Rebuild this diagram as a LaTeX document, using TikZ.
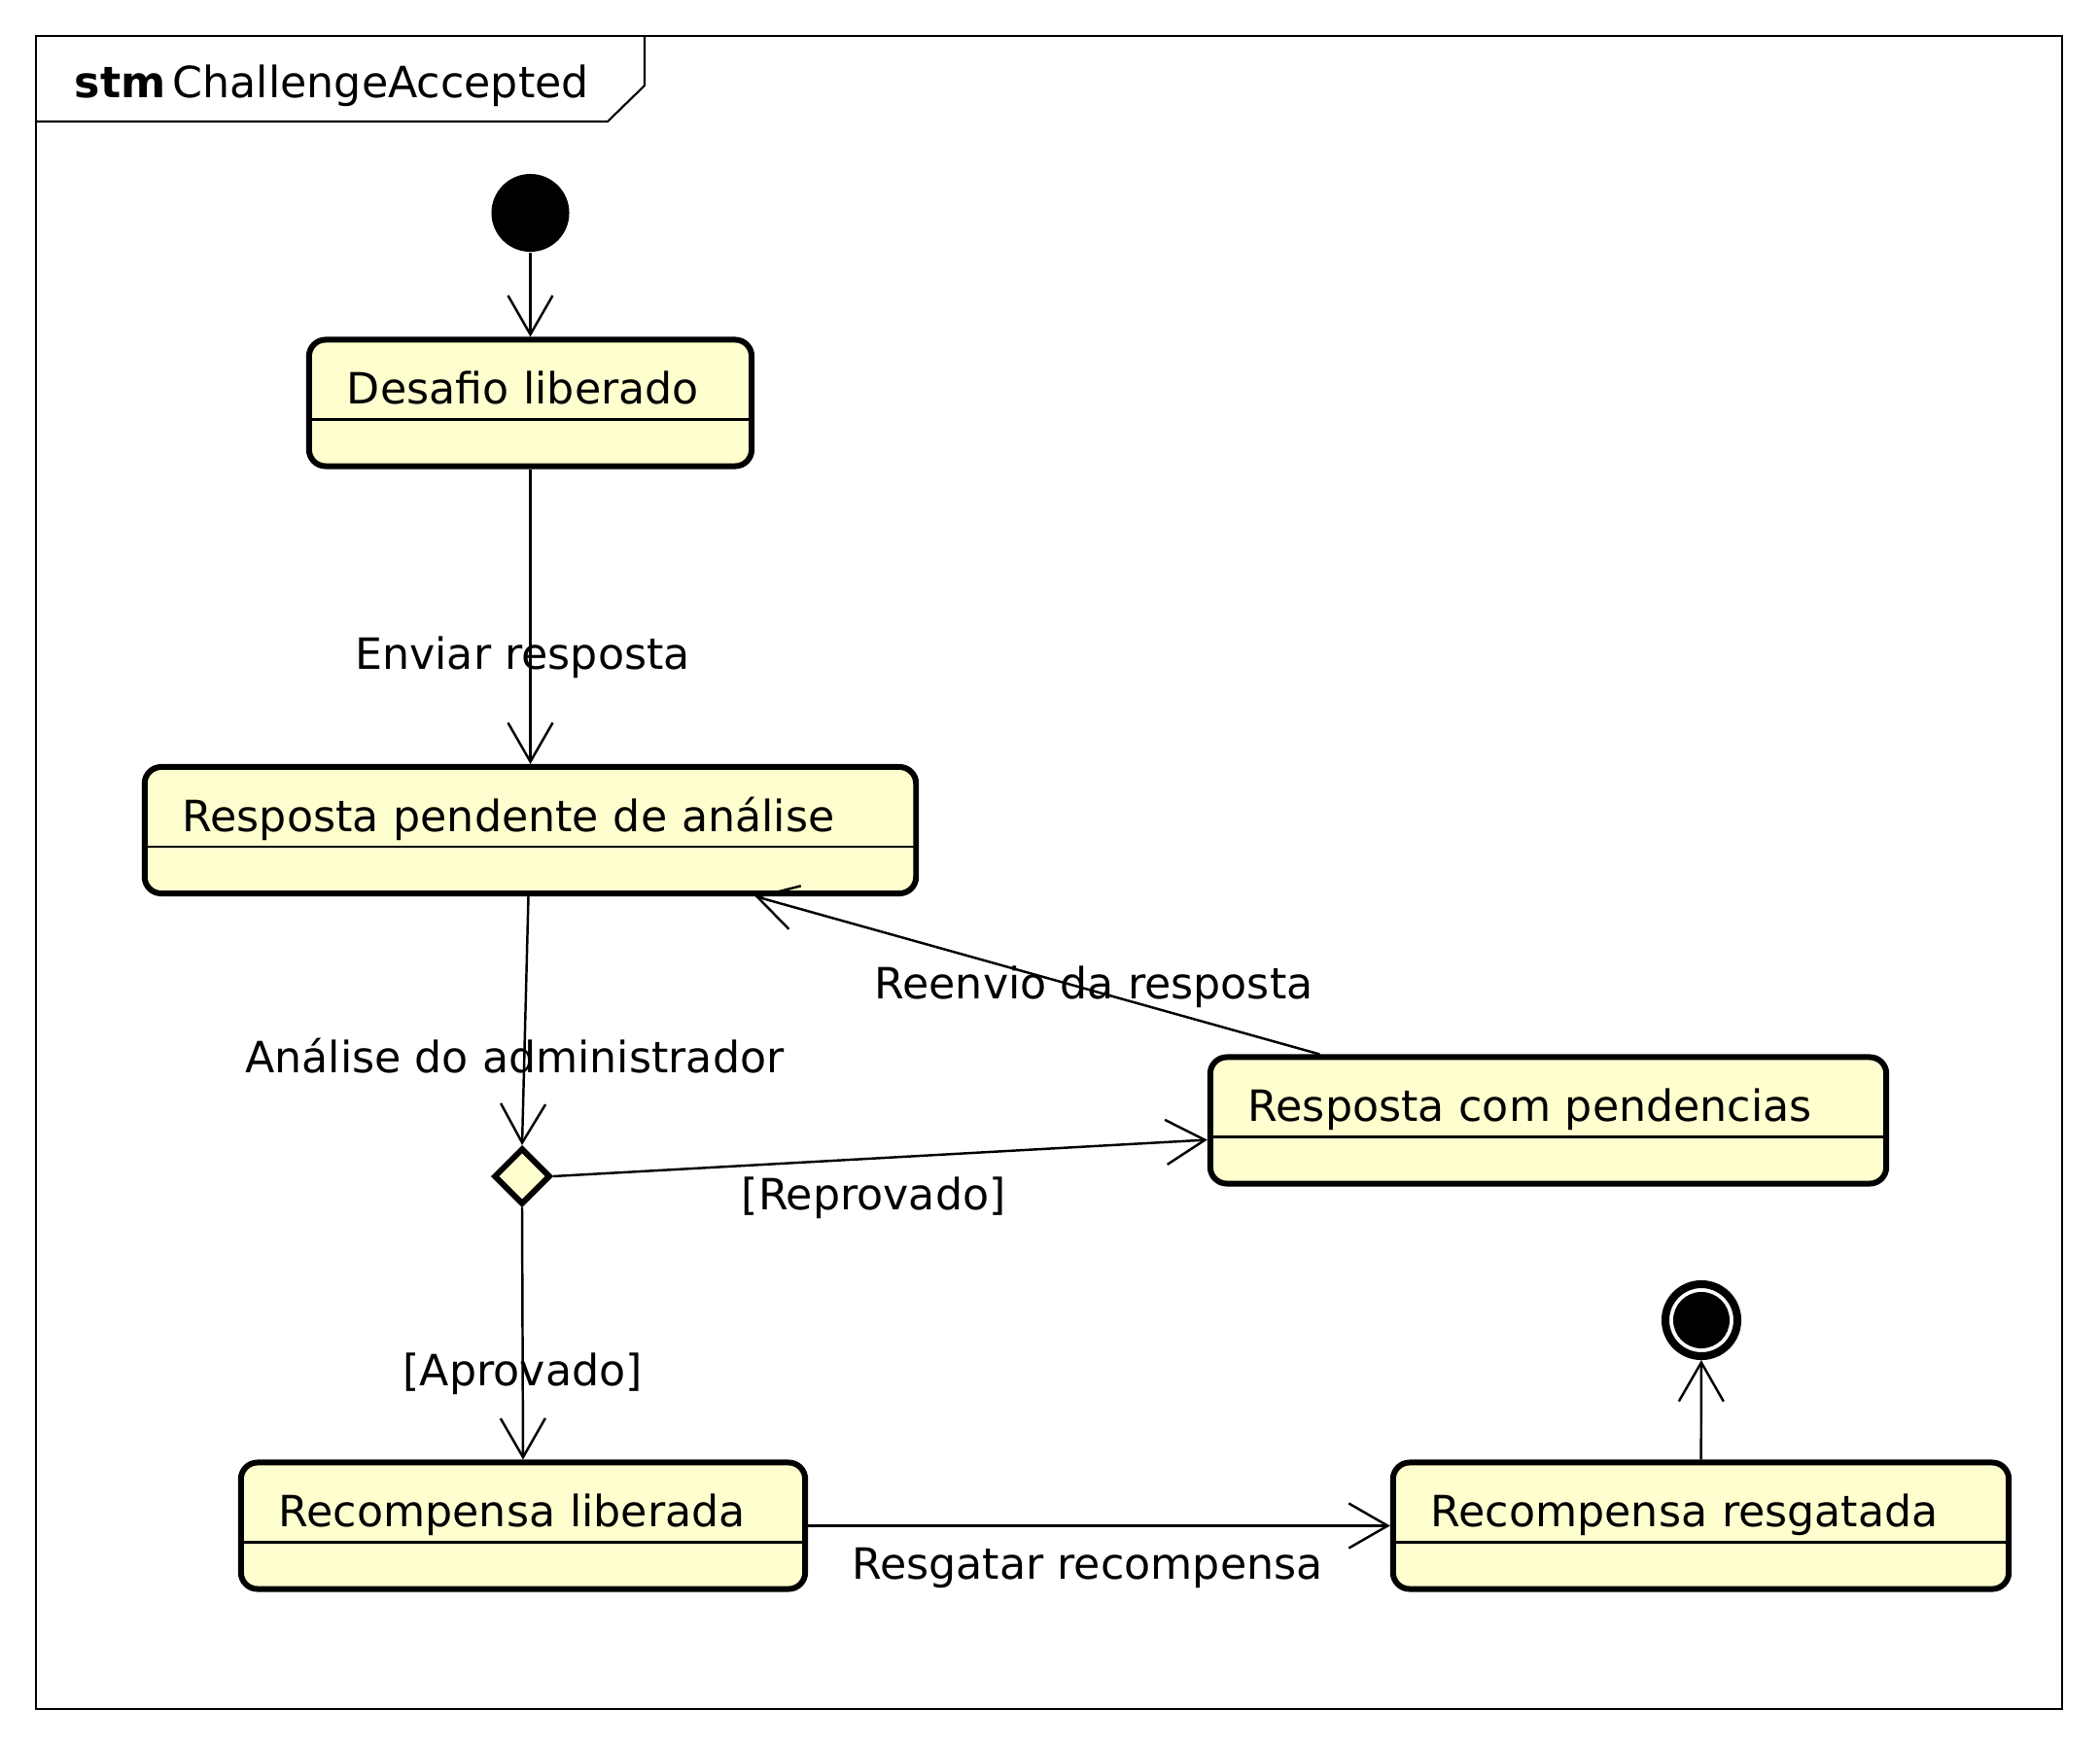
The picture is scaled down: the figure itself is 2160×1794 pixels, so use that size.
\documentclass[tikz,border=0pt]{standalone}
\usepackage{fontspec}
\setmainfont{DejaVu Sans}
\usetikzlibrary{arrows.meta, positioning, shapes.geometric}
\definecolor{statefill}{HTML}{FEFECE}

\begin{document}
\begin{tikzpicture}[x=0.01cm, y=-0.01cm, font=\fontsize{12.6}{15}\selectfont]
\tikzset{
    statebox/.style={draw=black, fill=statefill, line width=1.7pt, rounded corners=0.17cm,
      text width=#1, align=left, inner xsep=0.39cm, inner ysep=0.05cm,
      text height=0.61cm, text depth=0.59cm,
      path picture={\draw[line width=0.75pt, sharp corners]
        ([yshift=0.48cm]path picture bounding box.south west) --
        ([yshift=0.48cm]path picture bounding box.south east);}},
    initial/.style={circle, fill=black, inner sep=0, minimum size=0.8cm},
    final/.style={circle, draw=black, line width=2.3pt, inner sep=0, minimum size=0.74cm,
      path picture={\fill[black] (path picture bounding box.center) circle (0.29cm);}},
    choice/.style={diamond, aspect=1, draw=black, fill=statefill, line width=1.7pt,
      inner sep=0, minimum width=0.58cm, minimum height=0.58cm},
    trans/.style={->, line width=0.7pt},
    >={Straight Barb[length=0.4cm, width=0.46cm]},
  }
\useasboundingbox (0,0) rectangle (2160,1794);

% frame
\draw[line width=0.6pt] (37,37) rectangle (2121,1758);
\draw[line width=0.6pt] (37,125) -- (625,125) -- (663,88) -- (663,37);
\node (frametitle) [anchor=base west, inner sep=0] at (76,101) {\textbf{stm}\,ChallengeAccepted};

% states
\node (start) [initial] at (545.5,219) {};
\node (desafio) [statebox=3.77cm] at (545.5,414.5) {Desafio liberado};
\node (pendente) [statebox=7.15cm] at (545.5,854) {Resposta pendente de análise};
\node (pendencias) [statebox=6.17cm] at (1592.5,1152.5) {Resposta com pendencias};
\node (analise) [choice] at (537,1210) {};
\node (recLib) [statebox=5.02cm] at (538,1569.5) {Recompensa liberada};
\node (recRes) [statebox=5.55cm] at (1749.5,1569.5) {Recompensa resgatada};
\node (stop) [final] at (1750,1358) {};

% transitions
\draw[trans] (start) -- (desafio);
\draw[trans] (desafio) -- node[pos=0.64, xshift=-0.08cm] {Enviar resposta} (pendente);
\draw[trans] ([xshift=-0.02cm]pendente.south) -- node[pos=0.64, xshift=-0.1cm] {Análise do administrador} (analise.north);
\draw[trans] (analise.east) -- node[pos=0.49, yshift=-0.41cm] {[Reprovado]} ([yshift=-0.2cm]pendencias.west);
\draw[trans] ([xshift=-2.35cm]pendencias.north) -- node[pos=0.4, yshift=0.04cm] {Reenvio da resposta} ([xshift=2.31cm]pendente.south);
\draw[trans] (analise.south) -- node[pos=0.66] {[Aprovado]} (recLib.north);
\draw[trans] (recLib) -- node[pos=0.48, yshift=-0.43cm] {Resgatar recompensa} (recRes);
\draw[trans] (recRes) -- (stop);
\end{tikzpicture}
\end{document}
